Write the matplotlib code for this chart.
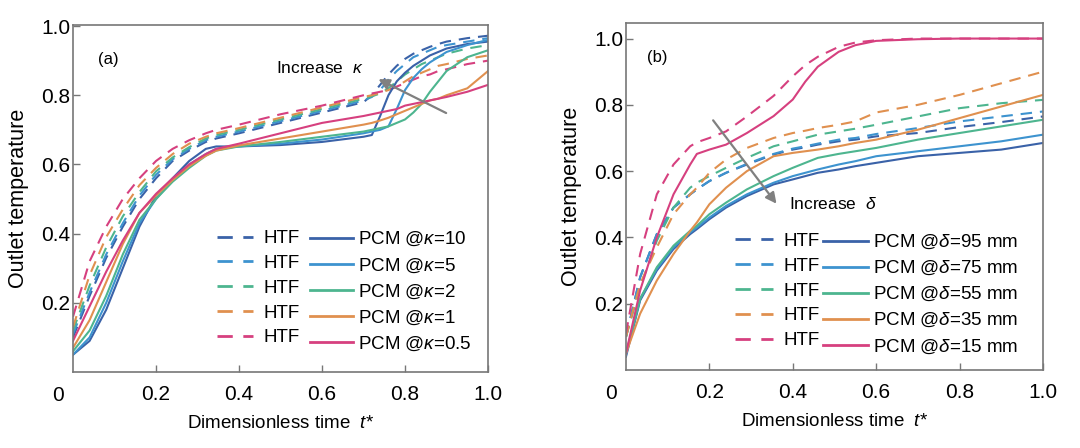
import matplotlib
matplotlib.use("Agg")
import matplotlib.pyplot as plt
from matplotlib.lines import Line2D

plt.rcParams['font.family'] = ['Liberation Sans', 'DejaVu Sans']
plt.rcParams['mathtext.fontset'] = 'custom'
plt.rcParams['mathtext.rm'] = 'Liberation Sans'
plt.rcParams['mathtext.it'] = 'Liberation Sans:italic'

# ---------------- data: panel (a) ----------------
kappa_labels = ["10", "5", "2", "1", "0.5"]
colors = ["#3a62a8", "#3d93cf", "#4db58f", "#e0904f", "#d6407f"]

xa = [0.0, 0.04, 0.08, 0.12, 0.16, 0.20, 0.24, 0.28, 0.32, 0.345, 0.40, 0.50, 0.60,
      0.70, 0.72, 0.74, 0.76, 0.78, 0.80, 0.82, 0.84, 0.86, 0.88, 0.90, 0.95, 1.0]

pcm_a_k10 = [0.05, 0.09, 0.18, 0.30, 0.42, 0.51, 0.56, 0.61, 0.645, 0.652, 0.652, 0.656, 0.665,
             0.68, 0.685, 0.74, 0.80, 0.84, 0.865, 0.885, 0.90, 0.915, 0.925, 0.935, 0.948, 0.955]
pcm_a_k5 = [0.05, 0.10, 0.20, 0.32, 0.43, 0.50, 0.555, 0.60, 0.63, 0.645, 0.652, 0.66, 0.672,
            0.69, 0.695, 0.70, 0.71, 0.76, 0.815, 0.85, 0.875, 0.895, 0.91, 0.925, 0.945, 0.96]
pcm_a_k2 = [0.06, 0.12, 0.22, 0.34, 0.44, 0.50, 0.55, 0.59, 0.625, 0.64, 0.652, 0.665, 0.68,
            0.695, 0.70, 0.705, 0.71, 0.72, 0.73, 0.75, 0.775, 0.81, 0.84, 0.87, 0.91, 0.93]
pcm_a_k1 = [0.07, 0.15, 0.26, 0.37, 0.46, 0.51, 0.555, 0.595, 0.625, 0.64, 0.655, 0.675, 0.695,
            0.715, 0.72, 0.727, 0.735, 0.745, 0.755, 0.765, 0.775, 0.785, 0.79, 0.80, 0.82, 0.87]
pcm_a_k05 = [0.09, 0.19, 0.29, 0.38, 0.46, 0.515, 0.56, 0.60, 0.63, 0.645, 0.66, 0.69, 0.72,
             0.74, 0.745, 0.75, 0.755, 0.76, 0.77, 0.775, 0.78, 0.785, 0.79, 0.795, 0.81, 0.83]

htf_a_k10 = [0.10, 0.22, 0.33, 0.42, 0.50, 0.56, 0.61, 0.64, 0.665, 0.675, 0.69, 0.72, 0.75,
             0.78, 0.80, 0.83, 0.86, 0.885, 0.905, 0.92, 0.93, 0.94, 0.948, 0.955, 0.965, 0.972]
htf_a_k5 = [0.11, 0.23, 0.34, 0.43, 0.51, 0.57, 0.615, 0.645, 0.67, 0.68, 0.695, 0.725, 0.755,
            0.785, 0.795, 0.815, 0.845, 0.87, 0.89, 0.91, 0.92, 0.93, 0.94, 0.945, 0.955, 0.965]
htf_a_k2 = [0.12, 0.25, 0.36, 0.45, 0.52, 0.58, 0.62, 0.65, 0.675, 0.685, 0.70, 0.73, 0.76,
            0.79, 0.797, 0.805, 0.82, 0.84, 0.86, 0.875, 0.89, 0.90, 0.91, 0.92, 0.935, 0.945]
htf_a_k1 = [0.13, 0.28, 0.39, 0.47, 0.54, 0.59, 0.63, 0.66, 0.68, 0.69, 0.705, 0.735, 0.765,
            0.795, 0.80, 0.807, 0.815, 0.825, 0.84, 0.855, 0.865, 0.875, 0.885, 0.89, 0.905, 0.915]
htf_a_k05 = [0.16, 0.32, 0.42, 0.50, 0.56, 0.61, 0.645, 0.67, 0.69, 0.70, 0.715, 0.745, 0.77,
             0.80, 0.805, 0.81, 0.815, 0.825, 0.835, 0.845, 0.855, 0.86, 0.87, 0.875, 0.89, 0.90]

pcm_a = [pcm_a_k10, pcm_a_k5, pcm_a_k2, pcm_a_k1, pcm_a_k05]
htf_a = [htf_a_k10, htf_a_k5, htf_a_k2, htf_a_k1, htf_a_k05]

# ---------------- data: panel (b) ----------------
delta_labels = ["95", "75", "55", "35", "15"]
xb = [0.0, 0.034, 0.074, 0.114, 0.154, 0.17, 0.20, 0.24, 0.29, 0.354, 0.40, 0.43, 0.46,
      0.51, 0.55, 0.60, 0.70, 0.80, 0.90, 1.0]

pcm_b_d95 = [0.04, 0.21, 0.30, 0.365, 0.41, 0.425, 0.455, 0.49, 0.525, 0.56, 0.575, 0.585, 0.595,
             0.605, 0.615, 0.625, 0.645, 0.655, 0.665, 0.685]
pcm_b_d75 = [0.045, 0.215, 0.305, 0.37, 0.415, 0.43, 0.46, 0.495, 0.53, 0.565, 0.585, 0.595, 0.605,
             0.62, 0.63, 0.645, 0.66, 0.675, 0.69, 0.71]
pcm_b_d55 = [0.05, 0.215, 0.31, 0.375, 0.42, 0.435, 0.47, 0.505, 0.545, 0.585, 0.61, 0.625, 0.64,
             0.652, 0.66, 0.67, 0.695, 0.715, 0.735, 0.755]
pcm_b_d35 = [0.05, 0.17, 0.27, 0.35, 0.42, 0.445, 0.50, 0.55, 0.60, 0.645, 0.655, 0.66, 0.665,
             0.675, 0.685, 0.695, 0.725, 0.76, 0.795, 0.83]
pcm_b_d15 = [0.05, 0.24, 0.40, 0.53, 0.62, 0.652, 0.665, 0.68, 0.715, 0.766, 0.816, 0.87, 0.915,
             0.96, 0.98, 0.993, 0.998, 1.0, 1.0, 1.0]

htf_b_d95 = [0.10, 0.28, 0.41, 0.49, 0.53, 0.545, 0.57, 0.595, 0.62, 0.65, 0.665, 0.672, 0.68,
             0.69, 0.695, 0.705, 0.715, 0.733, 0.748, 0.765]
htf_b_d75 = [0.10, 0.28, 0.41, 0.49, 0.53, 0.545, 0.57, 0.595, 0.622, 0.652, 0.668, 0.675, 0.683,
             0.695, 0.70, 0.712, 0.73, 0.75, 0.765, 0.78]
htf_b_d55 = [0.10, 0.25, 0.39, 0.49, 0.55, 0.565, 0.585, 0.61, 0.64, 0.675, 0.69, 0.70, 0.71,
             0.72, 0.728, 0.74, 0.765, 0.79, 0.805, 0.815]
htf_b_d35 = [0.10, 0.26, 0.37, 0.47, 0.53, 0.55, 0.595, 0.635, 0.67, 0.70, 0.715, 0.722, 0.73,
             0.74, 0.75, 0.777, 0.80, 0.83, 0.865, 0.90]
htf_b_d15 = [0.11, 0.35, 0.53, 0.62, 0.675, 0.687, 0.70, 0.72, 0.765, 0.827, 0.886, 0.92, 0.945,
             0.975, 0.988, 0.995, 1.0, 1.0, 1.0, 1.0]

pcm_b = [pcm_b_d95, pcm_b_d75, pcm_b_d55, pcm_b_d35, pcm_b_d15]
htf_b = [htf_b_d95, htf_b_d75, htf_b_d55, htf_b_d35, htf_b_d15]

tick_vals = [0.2, 0.4, 0.6, 0.8, 1.0]
tick_labels = ["0.2", "0.4", "0.6", "0.8", "1.0"]

# ---------------- figure ----------------
fig = plt.figure(figsize=(10.8, 4.48), dpi=100)
ax_a = fig.add_axes([0.0676, 0.1696, 0.3843, 0.7746])
ax_b = fig.add_axes([0.5796, 0.1741, 0.3861, 0.7746])

DASH = (5.5, 3.8)
LW = 1.5
LEG_FS = 13.5


def style_axes(ax, ytop):
    ax.set_xlim(0, 1.0)
    ax.set_ylim(0, ytop)
    ax.set_xticks(tick_vals)
    ax.set_xticklabels(tick_labels)
    ax.set_yticks(tick_vals)
    ax.set_yticklabels(tick_labels)
    ax.tick_params(direction='in', length=5, width=1.0, color='#777777',
                   labelsize=15, top=False, right=False)
    ax.tick_params(axis='y', pad=2)
    ax.tick_params(axis='x', pad=9)
    for s in ax.spines.values():
        s.set_color('#777777')
        s.set_linewidth(1.2)
    ax.set_ylabel("Outlet temperature", fontsize=15.5, labelpad=9)
    ax.set_xlabel(r"Dimensionless time  $t$*", fontsize=13.5, labelpad=8)
    ax.text(-0.035, -0.068, "0", transform=ax.transAxes, fontsize=15,
            ha='center', va='center')


def draw(ax, x, htf, pcm, labels, sym, unit, anchor1, anchor2, hl1, hl2):
    for yv, c in zip(htf, colors):
        ln, = ax.plot(x, yv, color=c, lw=LW)
        ln.set_dashes(DASH)
    for yv, c in zip(pcm, colors):
        ax.plot(x, yv, color=c, lw=LW)
    h_htf = []
    for c in colors:
        h = Line2D([], [], color=c, lw=2.0)
        h.set_dashes(DASH)
        h_htf.append(h)
    h_pcm = [Line2D([], [], color=c, lw=2.0) for c in colors]
    t_pcm = [r"PCM @$%s$=%s%s" % (sym, lab, unit) for lab in labels]
    common = dict(loc='upper left', frameon=False, fontsize=LEG_FS,
                  labelspacing=0.41, borderpad=0, borderaxespad=0)
    leg1 = ax.legend(h_htf, ["HTF"] * 5, bbox_to_anchor=anchor1,
                     handlelength=hl1, handletextpad=0.55, **common)
    ax.add_artist(leg1)
    ax.legend(h_pcm, t_pcm, bbox_to_anchor=anchor2,
              handlelength=hl2, handletextpad=0.27, **common)


style_axes(ax_a, 1.003)
draw(ax_a, xa, htf_a, pcm_a, kappa_labels, r"\kappa", "",
     (0.347, 0.409), (0.571, 0.409), 1.92, 2.3)
ax_a.text(0.06, 0.89, "(a)", fontsize=12)
ax_a.annotate("", xy=(0.73, 0.85), xytext=(0.905, 0.745),
              arrowprops=dict(arrowstyle='-|>', color='#808080', lw=1.6, mutation_scale=16))
ax_a.text(0.49, 0.878, r"Increase  $\kappa$", fontsize=12.5, va='center', ha='left')

style_axes(ax_b, 1.047)
draw(ax_b, xb, htf_b, pcm_b, delta_labels, r"\delta", " mm",
     (0.261, 0.395), (0.472, 0.395), 2.03, 2.4)
ax_b.text(0.05, 0.93, "(b)", fontsize=12)
ax_b.annotate("", xy=(0.365, 0.495), xytext=(0.205, 0.76),
              arrowprops=dict(arrowstyle='-|>', color='#808080', lw=1.6, mutation_scale=16))
ax_b.text(0.39, 0.50, r"Increase  $\delta$", fontsize=12.5, va='center', ha='left')

fig.savefig("out.png", dpi=100)
